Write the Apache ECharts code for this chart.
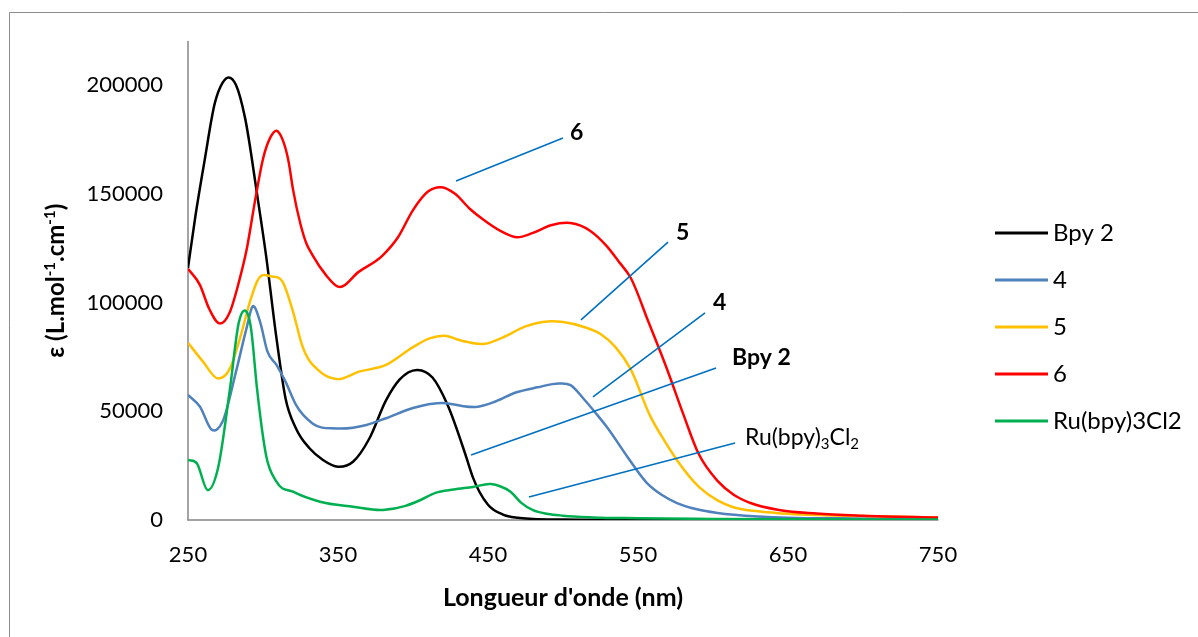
<!DOCTYPE html>
<html>
<head>
<meta charset="utf-8">
<script src="https://cdn.jsdelivr.net/npm/echarts@6/dist/echarts.min.js"></script>
<style>html,body{margin:0;padding:0;background:#fff;}#c{width:1198px;height:637px;}</style>
</head>
<body>
<div id="c"></div>
<script>
// Data: [wavelength nm, epsilon]
const seriesNames = ['Bpy 2', '4', '5', '6', 'Ru(bpy)3Cl2'];
const seriesColors = ['#000000', '#4F81BD', '#FFC000', '#FF0000', '#00B050'];
const xTicks = [250, 350, 450, 550, 650, 750];
const yTicks = [0, 50000, 100000, 150000, 200000];

const bpy2 = [[250,116000],[255,140000],[261,165000],[268,192000],[273,201000],[277,203500],[282,200000],[288,185000],[296,150000],[302,121800],[309,83500],[315,56000],[322,42100],[331,33000],[340,27600],[350,24500],[360,26800],[371,37600],[382,55000],[391,64500],[403,69000],[413,65500],[423,53000],[435,30000],[440,19500],[450,7000],[460,2500],[470,1000],[480,500],[500,200],[550,100],[600,0]];
const comp4 = [[250,57500],[258,52100],[266,41400],[273,45200],[282,68200],[289,88100],[293,98100],[298,91200],[303,77400],[309,71300],[315,63600],[322,52900],[333,44400],[349,42100],[369,43700],[382,46800],[400,51500],[413,53500],[422,53700],[432,52500],[442,52000],[455,54500],[468,58500],[483,61000],[498,62800],[505,62000],[514,55500],[522,49000],[529,43000],[543,29000],[556,17000],[566,11500],[576,7800],[590,4800],[603,3200],[636,1400],[700,700],[750,500]];
const comp5 = [[250,81500],[260,72800],[270,65100],[278,69700],[284,82000],[292,101900],[296,109600],[306,111900],[313,109600],[320,95800],[326,80500],[338,68200],[349,64800],[364,68200],[382,71300],[400,79500],[411,83500],[421,84700],[432,82500],[448,81000],[460,84000],[475,89000],[490,91300],[500,91000],[515,88500],[525,85500],[535,79500],[545,69500],[558,48000],[568,36000],[576,27500],[591,15000],[603,9000],[613,6000],[630,4000],[647,3000],[700,1800],[750,1200]];
const comp6 = [[250,115500],[258,108000],[264,97300],[271,90400],[278,95800],[284,109600],[289,124000],[295,148000],[300,166000],[305,176000],[309,179000],[313,175000],[317,165000],[320,152000],[325,136000],[329,127000],[333,121800],[342,112600],[350,107300],[364,114200],[380,121800],[390,130000],[400,142500],[410,151000],[419,153000],[428,150000],[438,143000],[447,138000],[458,133000],[469,130000],[480,132000],[492,135500],[505,136500],[518,133000],[529,126000],[537,119000],[545,111500],[557,91000],[569,70000],[580,49000],[590,31000],[603,18000],[614,11500],[625,7800],[645,4500],[669,3000],[700,2000],[750,1200]];
const ruBpy = [[250,27600],[256,26000],[263,13800],[270,23800],[278,60500],[284,91200],[287,96100],[292,88100],[296,60500],[302,29900],[309,17600],[320,13000],[338,8400],[360,6100],[380,4600],[395,6500],[405,9200],[415,12500],[427,14000],[440,15200],[452,16500],[458,15500],[465,13000],[472,8000],[480,4500],[490,2800],[500,2000],[520,1200],[550,800],[600,500],[650,300],[750,200]];

// Annotation callouts: start point, end point, label anchor (data coords)
const callouts = [
  {text: '{b|6}', from: [428.7,155900], to: [500,175600], at: [504.7,177900]},
  {text: '{b|5}', from: [512,92000], to: [570,127800], at: [575.3,132000]},
  {text: '{b|4}', from: [520,56600], to: [594.7,95200], at: [600,99800]},
  {text: '{b|Bpy 2}', from: [438.7,29900], to: [602,69900], at: [612.7,74500]},
  {text: '{n|Ru(bpy)}{sub|3}{n|Cl}{sub|2}', from: [477.3,10600], to: [614.7,35400], at: [621.3,37700]}
];

const allData = [bpy2, comp4, comp5, comp6, ruBpy];
const FONT = 'Lato, "Open Sans", sans-serif';

// Smooth curve y(x) through the pixel points (cubic Hermite, 3-point slopes)
function smoothPath(pts) {
  const n = pts.length;
  const m = new Array(n);
  for (let i = 0; i < n; i++) {
    if (i === 0) m[i] = (pts[1][1] - pts[0][1]) / (pts[1][0] - pts[0][0]);
    else if (i === n - 1) m[i] = (pts[n-1][1] - pts[n-2][1]) / (pts[n-1][0] - pts[n-2][0]);
    else {
      const h0 = pts[i][0] - pts[i-1][0], h1 = pts[i+1][0] - pts[i][0];
      const s0 = (pts[i][1] - pts[i-1][1]) / h0, s1 = (pts[i+1][1] - pts[i][1]) / h1;
      m[i] = (s0 * h1 + s1 * h0) / (h0 + h1);
    }
  }
  let d = 'M' + pts[0][0] + ' ' + pts[0][1];
  for (let i = 0; i < n - 1; i++) {
    const h = pts[i+1][0] - pts[i][0];
    d += ' C' + (pts[i][0] + h/3) + ' ' + (pts[i][1] + m[i]*h/3) + ' ' +
         (pts[i+1][0] - h/3) + ' ' + (pts[i+1][1] - m[i+1]*h/3) + ' ' +
         pts[i+1][0] + ' ' + pts[i+1][1];
  }
  return d;
}

const chart = echarts.init(document.getElementById('c'), null, {renderer: 'canvas'});
const option = {
  animation: false,
  backgroundColor: '#fff',
  textStyle: {fontFamily: FONT},
  grid: {left: 188, right: 260, top: 41.5, bottom: 117, containLabel: false},
  legend: {
    orient: 'vertical', left: 990, top: 216, padding: 5,
    icon: 'rect', itemWidth: 53, itemHeight: 3, itemGap: 23,
    textStyle: {fontFamily: FONT, fontSize: 24, lineHeight: 22, color: '#000', padding: [0,0,0,0]},
    data: seriesNames
  },
  xAxis: {
    type: 'value', min: 250, max: 750, interval: 100,
    axisLine: {show: true, lineStyle: {color: '#868686', width: 1.5}},
    axisTick: {show: false}, splitLine: {show: false},
    axisLabel: {fontFamily: FONT, fontSize: 22, color: '#000', margin: 24,
      formatter: v => xTicks.includes(v) ? String(v) : ''},
    name: "Longueur d'onde (nm)", nameLocation: 'middle', nameGap: 65,
    nameTextStyle: {fontFamily: FONT, fontSize: 25, fontWeight: 'bold', color: '#000'}
  },
  yAxis: {
    type: 'value', min: 0, max: 220000, interval: 50000,
    axisLine: {show: true, lineStyle: {color: '#868686', width: 1.5}},
    axisTick: {show: false}, splitLine: {show: false},
    axisLabel: {fontFamily: FONT, fontSize: 22, color: '#000', margin: 25, showMaxLabel: false,
      formatter: v => yTicks.includes(v) ? String(v) : ''},
    name: '{b|ε (L.mol}{s|-1}{b|.cm}{s|-1}{b|)}', nameLocation: 'middle', nameGap: 118, nameRotate: 90,
    nameTextStyle: {
      rich: {
        b: {fontFamily: FONT, fontSize: 24, fontWeight: 'bold', color: '#000'},
        s: {fontFamily: FONT, fontSize: 15, fontWeight: 'bold', color: '#000', padding: [0,0,12,0]}
      }
    }
  },
  series: seriesNames.map((n, i) => ({
    name: n, type: 'custom', data: allData[i], encode: {x: 0, y: 1},
    itemStyle: {color: seriesColors[i]}, z: 2 + i, clip: true,
    renderItem: function (params, api) {
      if (params.dataIndex !== 0) return null;
      const pts = allData[i].map(p => api.coord(p));
      return {
        type: 'path', shape: {pathData: smoothPath(pts)},
        style: {fill: 'none', stroke: seriesColors[i], lineWidth: 2.5, lineJoin: 'round'}
      };
    }
  }))
};
chart.setOption(option);

const g = [{
  type: 'rect', shape: {x: 9.5, y: 12.5, width: 1300, height: 800},
  style: {fill: 'none', stroke: '#8c8c8c', lineWidth: 1}, silent: true, z: -10
}];
callouts.forEach(c => {
  const p1 = chart.convertToPixel({gridIndex: 0}, c.from);
  const p2 = chart.convertToPixel({gridIndex: 0}, c.to);
  const p3 = chart.convertToPixel({gridIndex: 0}, c.at);
  g.push({type: 'line', shape: {x1: p1[0], y1: p1[1], x2: p2[0], y2: p2[1]},
    style: {stroke: '#0070C0', lineWidth: 1.6}, z: 100, silent: true});
  g.push({type: 'text', x: p3[0], y: p3[1], z: 100, silent: true,
    style: {text: c.text, verticalAlign: 'middle', align: 'left',
      rich: {
        b: {fontFamily: FONT, fontSize: 23, fontWeight: 'bold', fill: '#000'},
        n: {fontFamily: FONT, fontSize: 23, fill: '#000'},
        sub: {fontFamily: FONT, fontSize: 15, fill: '#000', padding: [12,0,0,0]}
      }}});
});
chart.setOption({graphic: g});
</script>
</body>
</html>
